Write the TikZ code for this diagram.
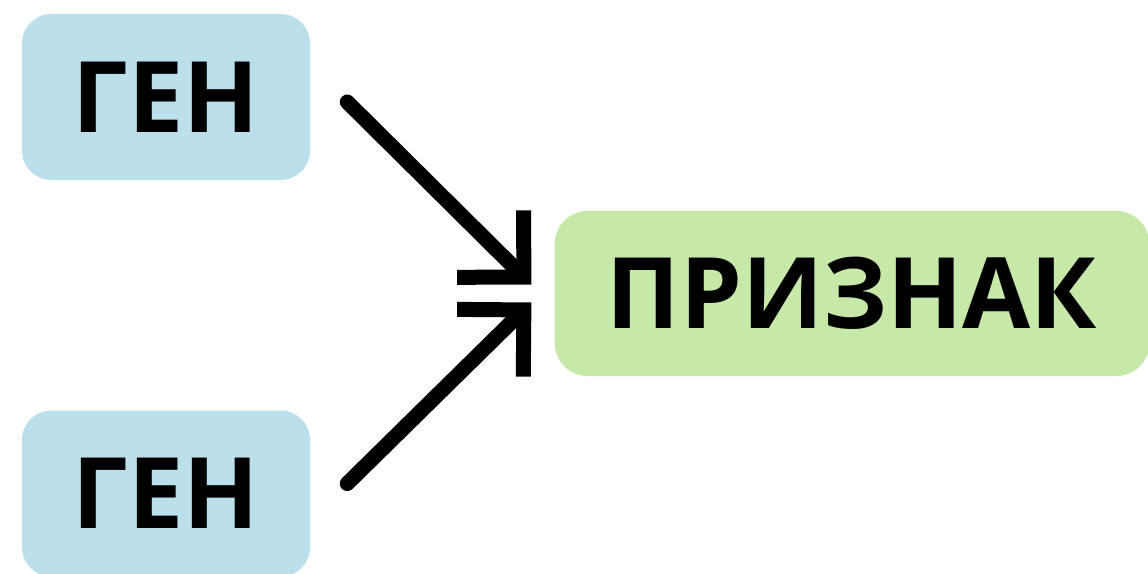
\documentclass[tikz,border=0pt]{standalone}
\usepackage{fontspec}
\setmainfont{Open Sans}
\usepackage{tikz}
\usetikzlibrary{arrows.meta, positioning, calc}

\definecolor{genblue}{HTML}{BBE0EB}
\definecolor{traitgreen}{HTML}{C6E8A8}

\begin{document}
\begin{tikzpicture}[x=0.75pt, y=-0.75pt,
    gene/.style={rectangle, fill=genblue, rounded corners=22pt, minimum width=216pt, minimum height=124.5pt, font=\fontsize{74}{78}\selectfont\bfseries, inner sep=0pt},
    trait/.style={rectangle, fill=traitgreen, rounded corners=25pt, minimum width=446pt, minimum height=124pt, font=\fontsize{74}{78}\selectfont\bfseries, inner sep=0pt},
    link/.style={draw, line width=11.25pt, line cap=round, -{Straight Barb[angle=90:50pt, line cap=butt]}}
]
    \useasboundingbox (0,0) rectangle (1148,574);

    % Genes
    \node [gene] (gen1) at (166,97) {ГЕН};
    \node [gene, below=172.5pt of gen1] (gen2) {ГЕН};

    % Trait
    \node [trait] (trait) at (852,293.5) {ПРИЗНАК};

    % Connections
    \path [link] ([shift={(37,5)}]gen1.east) -- ([shift={(-23,-9)}]trait.west);
    \path [link] ([shift={(37,-10)}]gen2.east) -- ([shift={(-23,9)}]trait.west);

\end{tikzpicture}
\end{document}
